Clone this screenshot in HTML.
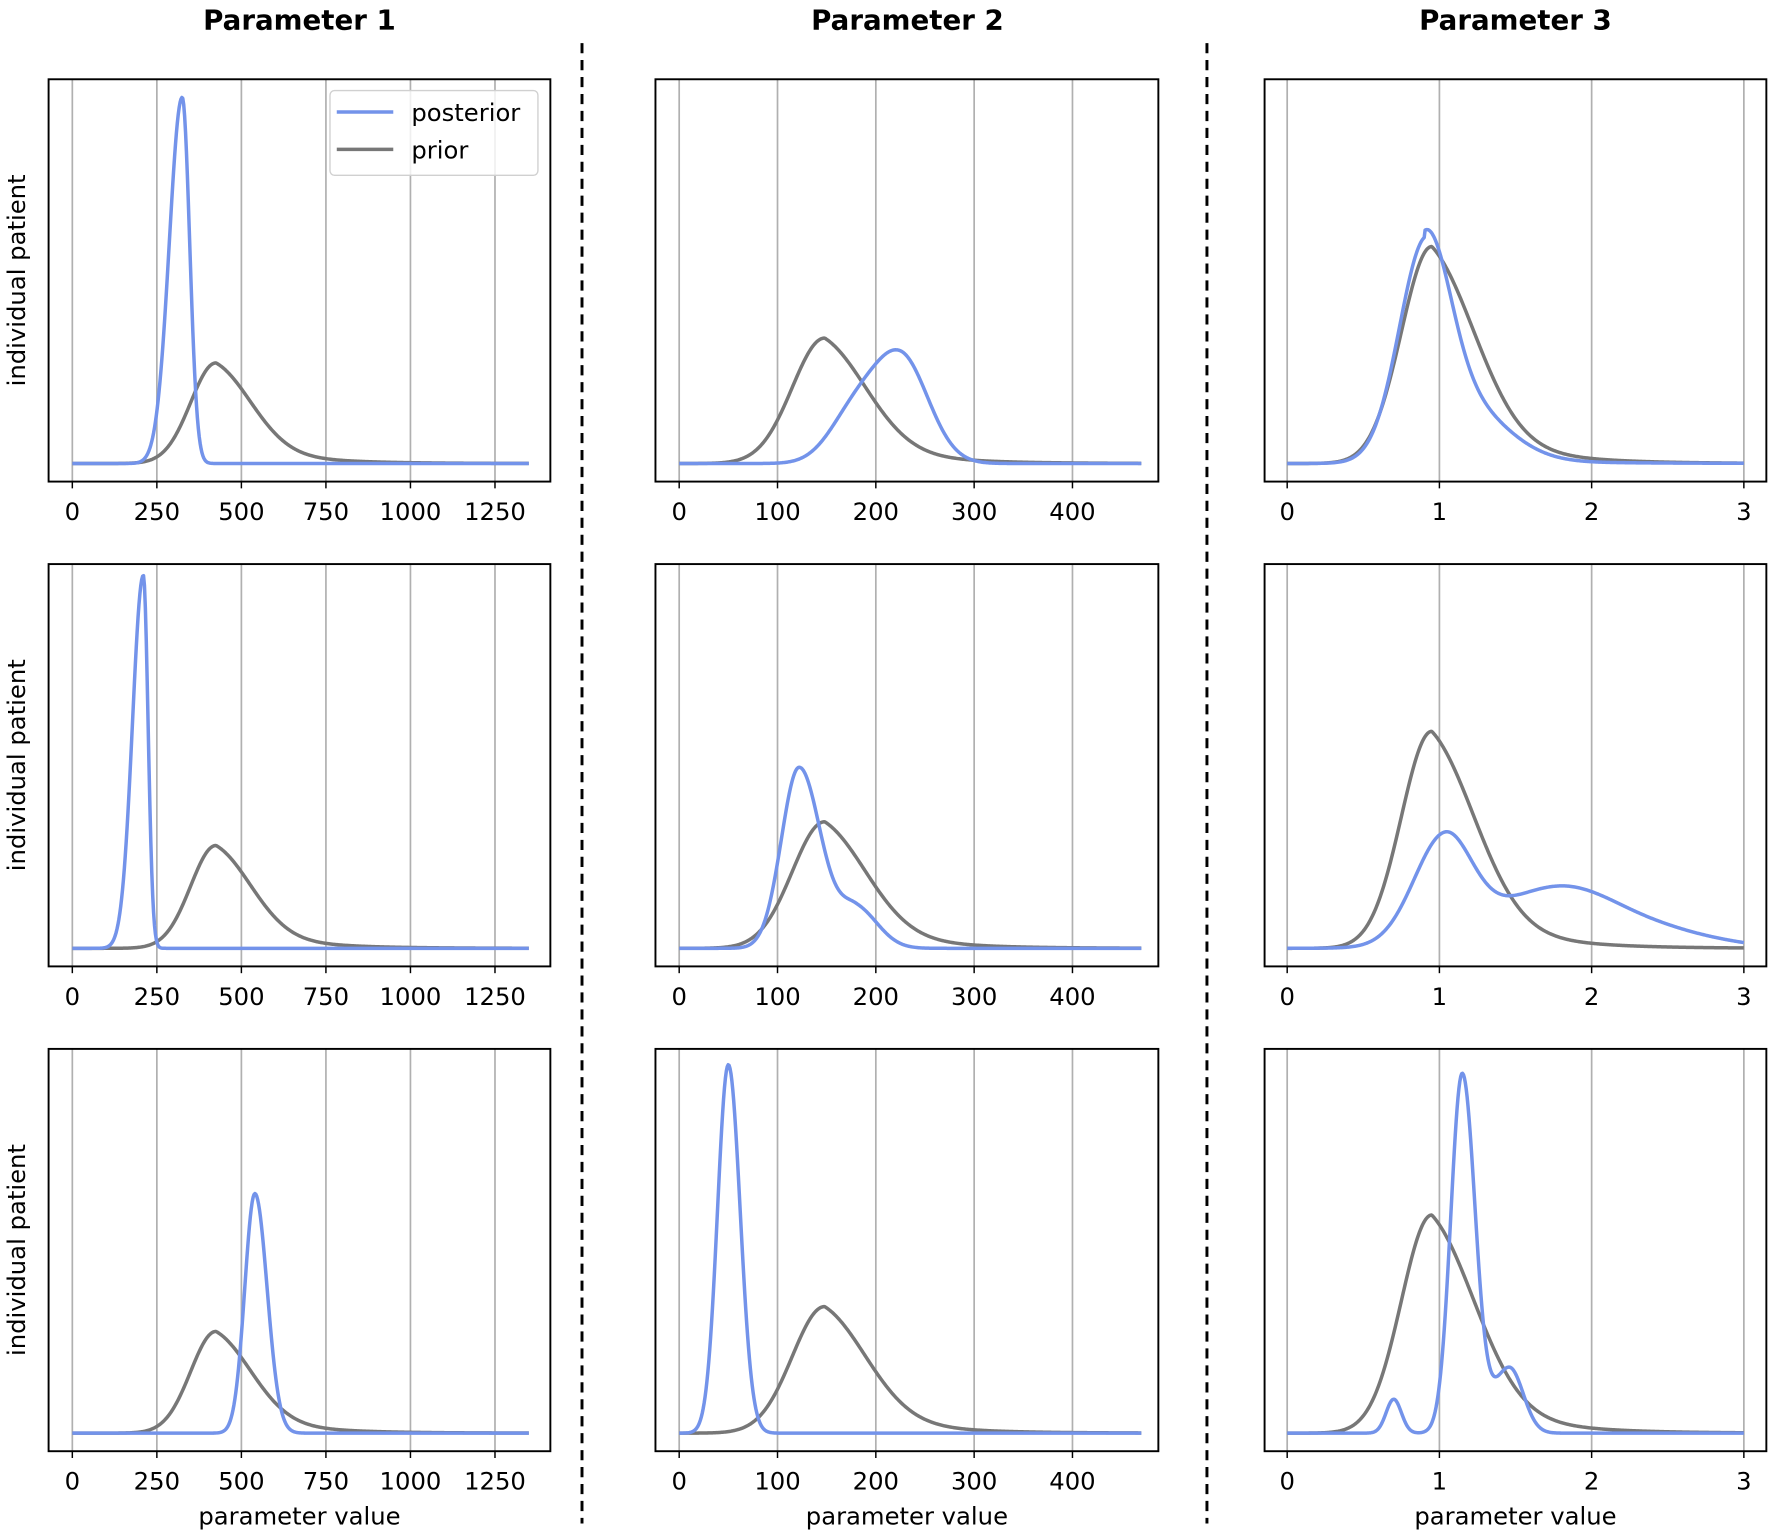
<!DOCTYPE html>
<html><head><meta charset="utf-8"><style>
html,body{margin:0;padding:0;background:#fff;}
svg{display:block;}
text{font-family:"DejaVu Sans","Liberation Sans",sans-serif;fill:#000;}
</style></head><body>
<svg id="s" width="1772" height="1535" viewBox="0 0 1568 1358" xmlns="http://www.w3.org/2000/svg">
<rect width="1568" height="1358" fill="#fff"/>
<g id="g"></g>
<text x="265" y="26" font-size="24.5" font-weight="bold" text-anchor="middle">Parameter 1</text>
<text x="803" y="26" font-size="24.5" font-weight="bold" text-anchor="middle">Parameter 2</text>
<text x="1341" y="26" font-size="24.5" font-weight="bold" text-anchor="middle">Parameter 3</text>
<line x1="515" y1="38" x2="515" y2="1348" stroke="#000" stroke-width="2.6" stroke-dasharray="9,6"/>
<line x1="1068" y1="38" x2="1068" y2="1348" stroke="#000" stroke-width="2.6" stroke-dasharray="9,6"/>
</svg>
<script>
const NS="http://www.w3.org/2000/svg",g=document.getElementById('g');
function el(t,a,txt){const e=document.createElementNS(NS,t);for(const k in a)e.setAttribute(k,a[k]);if(txt!=null)e.textContent=txt;g.appendChild(e);return e;}
const cols=[{x0:43,x1:487,o:64,s:0.2992,max:1350,ticks:[0,250,500,750,1000,1250]},
{x0:580,x1:1025,o:601,s:0.87,max:470,ticks:[0,100,200,300,400]},
{x0:1119,x1:1563,o:1139,s:134.7,max:3,ticks:[0,1,2,3]}];
const rows=[{y0:70,y1:426,b:410},{y0:499,y1:855,b:839},{y0:928,y1:1284,b:1268}];
function sk(x,m,h,l,r){const s=x<m?l:r;return h*Math.exp(-0.5*((x-m)/s)**2);}
function prior1(x,h){return x<425?sk(x,425,h,75,1):h*Math.exp(-0.5*((x-425)/110)**2)*0.7+h*0.3*Math.exp(-(x-425)/160);}
function prior2(x,h){return x<148?sk(x,148,h,33,1):h*0.7*Math.exp(-0.5*((x-148)/45)**2)+h*0.3*Math.exp(-(x-148)/60);}
function prior3(x,h){return x<0.95?sk(x,0.95,h,0.2,1):h*0.7*Math.exp(-0.5*((x-0.95)/0.3)**2)+h*0.3*Math.exp(-(x-0.95)/0.4);}
const F=[
[[x=>sk(x,325,324,38,22),x=>prior1(x,89)],[x=>sk(x,225,95,30,28)+sk(x,175,35,25,25),x=>prior2(x,111)],[x=>sk(x,0.9,160,0.17,0.16)+sk(x,1.1,55,0.25,0.3)+(x>0.9?6*Math.exp(-(x-0.9)/0.6):0),x=>prior3(x,192)]],
[[x=>sk(x,210,330,32,14),x=>prior1(x,91)],[x=>sk(x,122,160,18,22)+sk(x,180,35,18,22),x=>prior2(x,112)],[x=>sk(x,1.03,90,0.2,0.18)+sk(x,1.8,55,0.45,0.42)+sk(x,2.6,8,0.3,0.35),x=>prior3(x,192)]],
[[x=>sk(x,540,212,30,36),x=>prior1(x,90)],[x=>sk(x,50,326,11,12),x=>prior2(x,112)],[x=>sk(x,1.15,318,0.075,0.085)+sk(x,1.46,58,0.1,0.09)+sk(x,0.7,30,0.05,0.05),x=>prior3(x,193)]]];
rows.forEach((R,ri)=>cols.forEach((C,ci)=>{
  C.ticks.forEach(t=>{const x=C.o+t*C.s;
    el('line',{x1:x,y1:R.y0,x2:x,y2:R.y1,stroke:'#b0b0b0','stroke-width':1.5});
    el('line',{x1:x,y1:R.y1,x2:x,y2:R.y1+6,stroke:'#000','stroke-width':1.3});
    el('text',{x:x,y:R.y1+34,'font-size':21.5,'text-anchor':'middle'},String(t));});
  [1,0].forEach(k=>{const f=F[ri][ci][k];let d='';const N=500;
    for(let i=0;i<=N;i++){const v=C.max*i/N;const x=C.o+v*C.s;const y=R.b-f(v);d+=(i?'L':'M')+x.toFixed(2)+','+y.toFixed(2);}
    el('path',{d:d,fill:'none',stroke:k?'#777777':'#7393ea','stroke-width':3.1,'stroke-linejoin':'round'});});
  el('rect',{x:C.x0,y:R.y0,width:C.x1-C.x0,height:R.y1-R.y0,fill:'none',stroke:'#000','stroke-width':1.7});
  if(ci==0){const cy=(R.y0+R.y1)/2;el('text',{x:22,y:cy,'font-size':21.5,'text-anchor':'middle',transform:`rotate(-90 22 ${cy})`},'individual patient');}
  if(ri==2){el('text',{x:(C.x0+C.x1)/2,y:1349,'font-size':21.5,'text-anchor':'middle'},'parameter value');}
}));
el('rect',{x:292,y:80,width:184,height:75,rx:4,fill:'#fff','fill-opacity':0.8,stroke:'#d0d0d0','stroke-width':1.2});
el('line',{x1:298,y1:99,x2:348,y2:99,stroke:'#7393ea','stroke-width':3.1});
el('line',{x1:298,y1:132,x2:348,y2:132,stroke:'#777','stroke-width':3.1});
el('text',{x:364,y:107,'font-size':21.5},'posterior');
el('text',{x:364,y:140,'font-size':21.5},'prior');
</script>
</body></html>
